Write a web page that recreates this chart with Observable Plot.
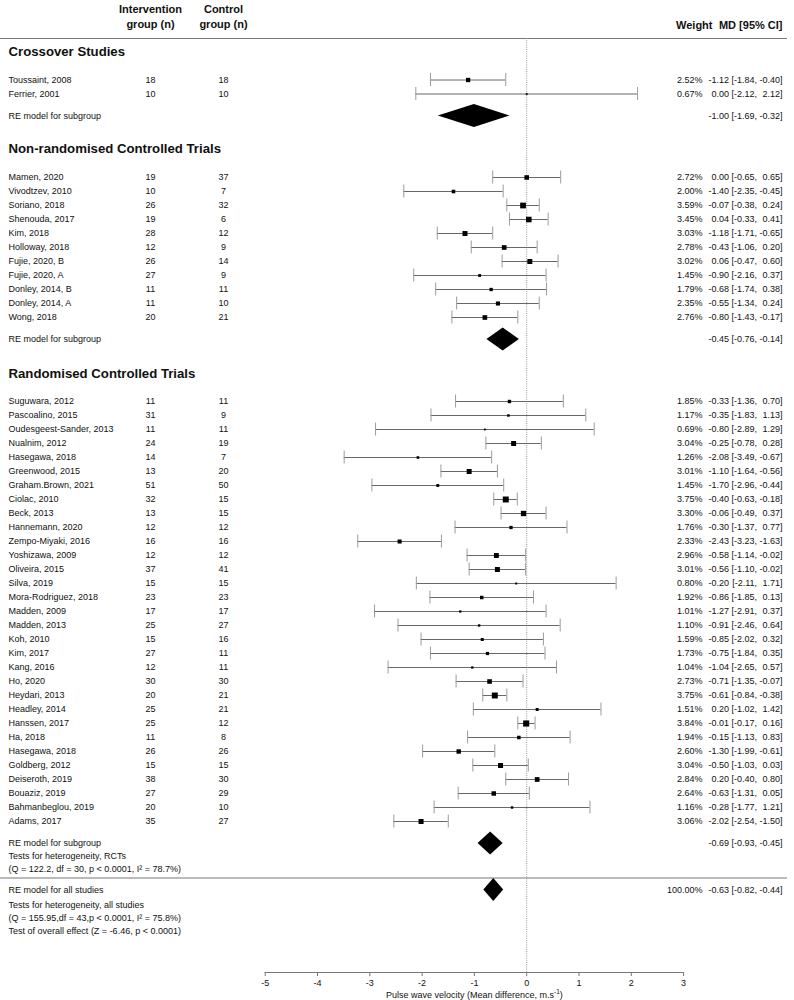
<!DOCTYPE html>
<html><head><meta charset="utf-8">
<script src="https://cdn.jsdelivr.net/npm/d3@7"></script>
<script src="https://cdn.jsdelivr.net/npm/@observablehq/plot@0.6"></script>
<style>body{margin:0;background:#fff}svg{display:block}</style>
</head><body><div id="chart"></div>
<script>
// ---------- DATA ----------
const crossStudies = ["Toussaint, 2008", "Ferrier, 2001"];
const crossNI = [18, 10];
const crossNC = [18, 10];
const crossWeight = [2.52, 0.67];
const crossMD = [-1.12, 0.00];
const crossLo = [-1.84, -2.12];
const crossHi = [-0.40, 2.12];
const crossSummary = [-1.00, -1.69, -0.32];

const nrctStudies = ["Mamen, 2020", "Vivodtzev, 2010", "Soriano, 2018", "Shenouda, 2017", "Kim, 2018", "Holloway, 2018", "Fujie, 2020, B", "Fujie, 2020, A", "Donley, 2014, B", "Donley, 2014, A", "Wong, 2018"];
const nrctNI = [19, 10, 26, 19, 28, 12, 26, 27, 11, 11, 20];
const nrctNC = [37, 7, 32, 6, 12, 9, 14, 9, 11, 10, 21];
const nrctWeight = [2.72, 2.00, 3.59, 3.45, 3.03, 2.78, 3.02, 1.45, 1.79, 2.35, 2.76];
const nrctMD = [0.00, -1.40, -0.07, 0.04, -1.18, -0.43, 0.06, -0.90, -0.68, -0.55, -0.80];
const nrctLo = [-0.65, -2.35, -0.38, -0.33, -1.71, -1.06, -0.47, -2.16, -1.74, -1.34, -1.43];
const nrctHi = [0.65, -0.45, 0.24, 0.41, -0.65, 0.20, 0.60, 0.37, 0.38, 0.24, -0.17];
const nrctSummary = [-0.45, -0.76, -0.14];

const rctStudies = ["Suguwara, 2012", "Pascoalino, 2015", "Oudesgeest-Sander, 2013", "Nualnim, 2012", "Hasegawa, 2018", "Greenwood, 2015", "Graham.Brown, 2021", "Ciolac, 2010", "Beck, 2013", "Hannemann, 2020", "Zempo-Miyaki, 2016", "Yoshizawa, 2009", "Oliveira, 2015", "Silva, 2019", "Mora-Rodriguez, 2018", "Madden, 2009", "Madden, 2013", "Koh, 2010", "Kim, 2017", "Kang, 2016", "Ho, 2020", "Heydari, 2013", "Headley, 2014", "Hanssen, 2017", "Ha, 2018", "Hasegawa, 2018", "Goldberg, 2012", "Deiseroth, 2019", "Bouaziz, 2019", "Bahmanbeglou, 2019", "Adams, 2017"];
const rctNI = [11, 31, 11, 24, 14, 13, 51, 32, 13, 12, 16, 12, 37, 15, 23, 17, 25, 15, 27, 12, 30, 20, 25, 25, 11, 26, 15, 38, 27, 20, 35];
const rctNC = [11, 9, 11, 19, 7, 20, 50, 15, 15, 12, 16, 12, 41, 15, 23, 17, 27, 16, 11, 11, 30, 21, 21, 12, 8, 26, 15, 30, 29, 10, 27];
const rctWeight = [1.85, 1.17, 0.69, 3.04, 1.26, 3.01, 1.45, 3.75, 3.30, 1.76, 2.33, 2.96, 3.01, 0.80, 1.92, 1.01, 1.10, 1.59, 1.73, 1.04, 2.73, 3.75, 1.51, 3.84, 1.94, 2.60, 3.04, 2.84, 2.64, 1.16, 3.06];
const rctMD = [-0.33, -0.35, -0.80, -0.25, -2.08, -1.10, -1.70, -0.40, -0.06, -0.30, -2.43, -0.58, -0.56, -0.20, -0.86, -1.27, -0.91, -0.85, -0.75, -1.04, -0.71, -0.61, 0.20, -0.01, -0.15, -1.30, -0.50, 0.20, -0.63, -0.28, -2.02];
const rctLo = [-1.36, -1.83, -2.89, -0.78, -3.49, -1.64, -2.96, -0.63, -0.49, -1.37, -3.23, -1.14, -1.10, -2.11, -1.85, -2.91, -2.46, -2.02, -1.84, -2.65, -1.35, -0.84, -1.02, -0.17, -1.13, -1.99, -1.03, -0.40, -1.31, -1.77, -2.54];
const rctHi = [0.70, 1.13, 1.29, 0.28, -0.67, -0.56, -0.44, -0.18, 0.37, 0.77, -1.63, -0.02, -0.02, 1.71, 0.13, 0.37, 0.64, 0.32, 0.35, 0.57, -0.07, -0.38, 1.42, 0.16, 0.83, -0.61, 0.03, 0.80, 0.05, 1.21, -1.50];
const rctSummary = [-0.69, -0.93, -0.45];

const overallSummary = [-0.63, -0.82, -0.44];
const overallWeight = "100.00%";

const sectionTitles = ["Crossover Studies", "Non-randomised Controlled Trials", "Randomised Controlled Trials"];
const headerIntervention = ["Intervention", "group (n)"];
const headerControl = ["Control", "group (n)"];
const headerRight = ["Weight", "MD [95% CI]"];
const subgroupLabel = "RE model for subgroup";
const overallLabel = "RE model for all studies";
const rctHetText = ["Tests for heterogeneity, RCTs", "(Q = 122.2, df = 30, p < 0.0001, I\u00B2 = 78.7%)"];
const allHetText = ["Tests for heterogeneity, all studies", "(Q = 155.95,df = 43,p < 0.0001, I\u00B2 = 75.8%)", "Test of overall effect (Z = -6.46, p < 0.0001)"];
const xTicks = [-5, -4, -3, -2, -1, 0, 1, 2, 3];
const axisTitle = "Pulse wave velocity (Mean difference, m.s-1)";

// ---------- LAYOUT ----------
const W = 794, H = 1000;
const zeroPx = 526.2, pxPerUnit = 52.3, frameRight = 787;
const rowStep = 14;
const sectionLayout = [
  {titleY: 51, firstY: 79.5},
  {titleY: 148, firstY: 177},
  {titleY: 373, firstY: 401}
];
const reGap = 22;
const headerRuleY = 38, sepRuleY = 877.5;
const overallY = 889.5;
const axisY = 972, tickLen = 4, tickLabelY = 983, axisTitleY = 994.5;
const capHalf = 6.5, diamondHalf = 11.5;
const col = {name: 8, nI: 150, nC: 223, weight: 702, est: 728.5, lo: 756.5, hi: 782};
const textColor = "#111";

// ---------- BUILD TABLES ----------
const groups = [
  [crossStudies, crossNI, crossNC, crossWeight, crossMD, crossLo, crossHi, crossSummary],
  [nrctStudies, nrctNI, nrctNC, nrctWeight, nrctMD, nrctLo, nrctHi, nrctSummary],
  [rctStudies, rctNI, rctNC, rctWeight, rctMD, rctLo, rctHi, rctSummary]
];
const rows = [];
const summaries = [];
const titles = [];
groups.forEach((g, s) => {
  const [st, ni, nc, w, md, lo, hi, sm] = g;
  const L = sectionLayout[s];
  titles.push({text: sectionTitles[s], y: L.titleY});
  st.forEach((name, i) => rows.push({study: name, nI: ni[i], nC: nc[i], w: w[i], md: md[i], lo: lo[i], hi: hi[i], y: L.firstY + i * rowStep}));
  const lastY = L.firstY + (st.length - 1) * rowStep;
  summaries.push({id: "s" + s, label: subgroupLabel, est: sm[0], lo: sm[1], hi: sm[2], y: lastY + reGap});
});
summaries.push({id: "all", label: overallLabel, est: overallSummary[0], lo: overallSummary[1], hi: overallSummary[2], y: overallY, weight: overallWeight});

const diamondPts = summaries.flatMap(d => [
  {id: d.id, x: d.lo, y1: d.y, y2: d.y},
  {id: d.id, x: d.est, y1: d.y - diamondHalf, y2: d.y + diamondHalf},
  {id: d.id, x: d.hi, y1: d.y, y2: d.y}
]);
const rctSumY = summaries[2].y;
const extraText = [
  {text: rctHetText[0], y: rctSumY + 13},
  {text: rctHetText[1], y: rctSumY + 26},
  {text: allHetText[0], y: overallY + 15},
  {text: allHetText[1], y: overallY + 28},
  {text: allHetText[2], y: overallY + 41}
];
const f2 = v => v.toFixed(2);
const allEst = [...rows.map(d => ({est: d.md, lo: d.lo, hi: d.hi, y: d.y})), ...summaries.map(d => ({est: d.est, lo: d.lo, hi: d.hi, y: d.y}))];

const T = (data, o) => Plot.text(data, {frameAnchor: "left", fill: textColor, fontSize: 9, ...o});

const chart = Plot.plot({
  width: W, height: H,
  marginLeft: 0, marginRight: W - frameRight, marginTop: 0, marginBottom: 0,
  x: {domain: [-zeroPx / pxPerUnit, (frameRight - zeroPx) / pxPerUnit], axis: null},
  y: {domain: [0, H], range: [0, H], axis: null},
  r: {type: "linear", domain: [0, 4], range: [0.51, 3.56]},
  style: {fontFamily: "'Liberation Sans', Arial, sans-serif", background: "#fff"},
  marks: [
    // rules
    Plot.ruleY([headerRuleY, sepRuleY], {y: d => d, stroke: "#777", strokeWidth: 1}),
    Plot.ruleX([0], {x: d => d, y1: () => headerRuleY, y2: () => axisY, stroke: "#9a9a9a", strokeDasharray: "1,1.2"}),
    // headers
    T(headerIntervention, {y: (d, i) => 9 + i * 14.5, text: d => d, dx: col.nI, textAnchor: "middle", fontSize: 11, fontWeight: "bold"}),
    T(headerControl, {y: (d, i) => 9 + i * 14.5, text: d => d, dx: col.nC, textAnchor: "middle", fontSize: 11, fontWeight: "bold"}),
    T([headerRight[0]], {y: () => 25, text: d => d, dx: 712, textAnchor: "end", fontSize: 11, fontWeight: "bold"}),
    T([headerRight[1]], {y: () => 25, text: d => d, dx: 782, textAnchor: "end", fontSize: 11, fontWeight: "bold"}),
    // section titles
    T(titles, {y: "y", text: "text", dx: col.name, textAnchor: "start", fontSize: 13.2, fontWeight: "bold"}),
    // study text columns
    T(rows, {y: "y", text: "study", dx: col.name, textAnchor: "start"}),
    T(rows, {y: "y", text: d => String(d.nI), dx: col.nI, textAnchor: "middle"}),
    T(rows, {y: "y", text: d => String(d.nC), dx: col.nC, textAnchor: "middle"}),
    T(rows, {y: "y", text: d => f2(d.w) + "%", dx: col.weight, textAnchor: "end"}),
    T(allEst, {y: "y", text: d => f2(d.est), dx: col.est, textAnchor: "end"}),
    T(allEst, {y: "y", text: d => "[" + f2(d.lo) + ",", dx: col.lo, textAnchor: "end"}),
    T(allEst, {y: "y", text: d => f2(d.hi) + "]", dx: col.hi, textAnchor: "end"}),
    T(summaries, {y: "y", text: "label", dx: col.name, textAnchor: "start"}),
    T(summaries.filter(d => d.weight), {y: "y", text: "weight", dx: col.weight, textAnchor: "end"}),
    T(extraText, {y: "y", text: "text", dx: col.name, textAnchor: "start"}),
    // CIs
    Plot.ruleY(rows, {y: "y", x1: "lo", x2: "hi", stroke: "#686868", strokeWidth: 1}),
    Plot.ruleX(rows, {x: "lo", y1: d => d.y - capHalf, y2: d => d.y + capHalf, stroke: "#9c9c9c", strokeWidth: 1}),
    Plot.ruleX(rows, {x: "hi", y1: d => d.y - capHalf, y2: d => d.y + capHalf, stroke: "#9c9c9c", strokeWidth: 1}),
    Plot.dot(rows, {x: "md", y: "y", r: "w", symbol: "square", fill: "#000", stroke: "none"}),
    // diamonds
    Plot.areaY(diamondPts, {x: "x", y1: "y1", y2: "y2", z: "id", fill: "#000", curve: "linear"}),
    // axis
    Plot.ruleY([axisY], {y: d => d, x1: () => xTicks[0], x2: () => xTicks[xTicks.length - 1], stroke: "#777"}),
    Plot.ruleX(xTicks, {x: d => d, y1: () => axisY, y2: () => axisY + tickLen, stroke: "#777"}),
    Plot.text(xTicks, {x: d => d, y: () => tickLabelY, text: d => String(d), fill: textColor, fontSize: 9}),
    Plot.text([axisTitle], {x: () => (xTicks[0] + xTicks[xTicks.length - 1]) / 2, y: () => axisTitleY, text: d => d, fill: textColor, fontSize: 9})
  ]
});

// superscript "-1" in axis title
d3.select(chart).selectAll("text").filter(function() { return this.textContent === axisTitle; }).each(function() {
  const t = d3.select(this);
  t.text(null);
  t.append("tspan").text("Pulse wave velocity (Mean difference, m.s");
  t.append("tspan").attr("dy", -3.5).attr("font-size", 6.5).text("-1");
  t.append("tspan").attr("dy", 3.5).text(")");
});

document.getElementById("chart").appendChild(chart);
</script>
</body></html>
